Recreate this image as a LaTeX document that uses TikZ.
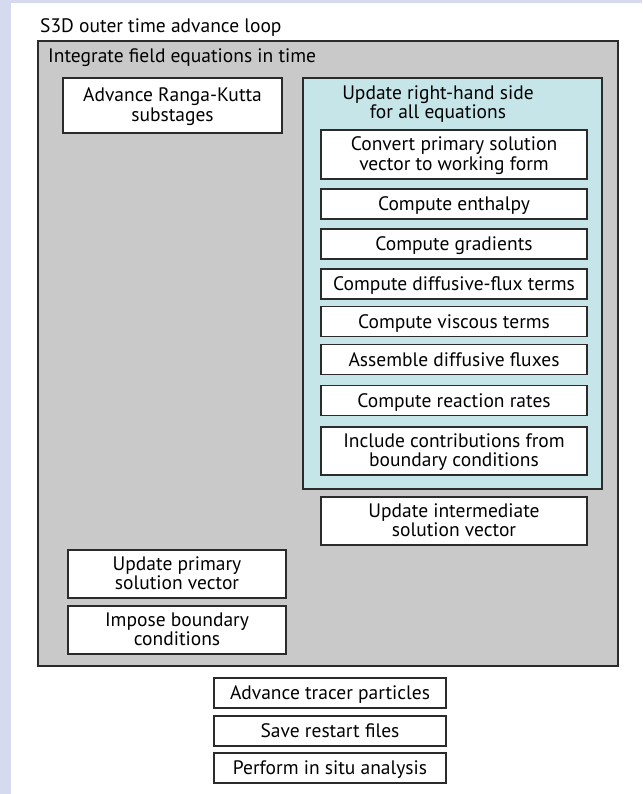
\documentclass[tikz,border=0pt]{standalone}
\usepackage{fontspec}
\setmainfont{PT Sans}
\definecolor{lav}{HTML}{D5DAEE}
\definecolor{grayfill}{HTML}{C9C9C9}
\definecolor{cyanfill}{HTML}{C6E5E8}
\definecolor{edge}{HTML}{2B2B2B}
\begin{document}
\begin{tikzpicture}[x=1pt,y=-1pt,
  wbox/.style={draw=edge, line width=1.1pt, fill=white, inner sep=0pt, align=center,
    font=\fontsize{19.5}{19.5}\selectfont, text height=13.6pt, text depth=0pt},
  wbox2/.style={wbox, text height=33.1pt, text depth=2pt},
  grp/.style={draw=edge, line width=1.2pt, inner sep=0pt},
  ttl/.style={inner sep=0pt, font=\fontsize{19.5}{19.5}\selectfont, align=center}]
\useasboundingbox (0,0) rectangle (642,794);
\fill[lav] (0,0) rectangle (642,794);
\fill[white] (11,3) rectangle (642,794);
\node[ttl, anchor=base west] (outer) at (40,33) {S3D outer time advance loop};
\node[grp, fill=grayfill, minimum width=580pt, minimum height=625pt] (integ) at (328,353.5) {};
\node[ttl, anchor=base west] (integt) at (48,63) {Integrate field equations in time};
\node[wbox2, minimum width=219pt, minimum height=55pt] (ark) at (172.5,105.5) {Advance Ranga-Kutta\\substages};
\node[grp, fill=cyanfill, minimum width=299pt, minimum height=411pt] (rhs) at (452.5,283.5) {};
\node[ttl, anchor=base] (rhst) at (438,119) {Update right-hand side\\for all equations};
\node[wbox2, minimum width=266pt, minimum height=49pt] (conv) at (454,154.5) {Convert primary solution\\vector to working form};
\node[wbox, minimum width=266pt, minimum height=30pt] (enth) at (454,204) {Compute enthalpy};
\node[wbox, minimum width=266pt, minimum height=30pt] (grad) at (454,244) {Compute gradients};
\node[wbox, minimum width=266pt, minimum height=30pt] (dflux) at (454,284) {Compute diffusive-flux terms};
\node[wbox, minimum width=266pt, minimum height=30pt] (visc) at (454,321.5) {Compute viscous terms};
\node[wbox, minimum width=266pt, minimum height=30pt] (asm) at (454,359.5) {Assemble diffusive fluxes};
\node[wbox, minimum width=266pt, minimum height=30pt] (react) at (454,400.5) {Compute reaction rates};
\node[wbox2, minimum width=266pt, minimum height=48pt] (incl) at (454,451) {Include contributions from\\boundary conditions};
\node[wbox2, minimum width=266pt, minimum height=48pt] (uint) at (454,521) {Update intermediate\\solution vector};
\node[wbox2, minimum width=218pt, minimum height=48pt] (uprim) at (177,574) {Update primary\\solution vector};
\node[wbox2, minimum width=218pt, minimum height=48pt] (impose) at (177,630) {Impose boundary\\conditions};
\node[wbox, minimum width=232pt, minimum height=30pt] (tracer) at (330,693) {Advance tracer particles};
\node[wbox, minimum width=232pt, minimum height=30pt] (save) at (330,731) {Save restart files};
\node[wbox, minimum width=232pt, minimum height=30pt] (perform) at (330,768) {Perform in situ analysis};
\end{tikzpicture}
\end{document}
